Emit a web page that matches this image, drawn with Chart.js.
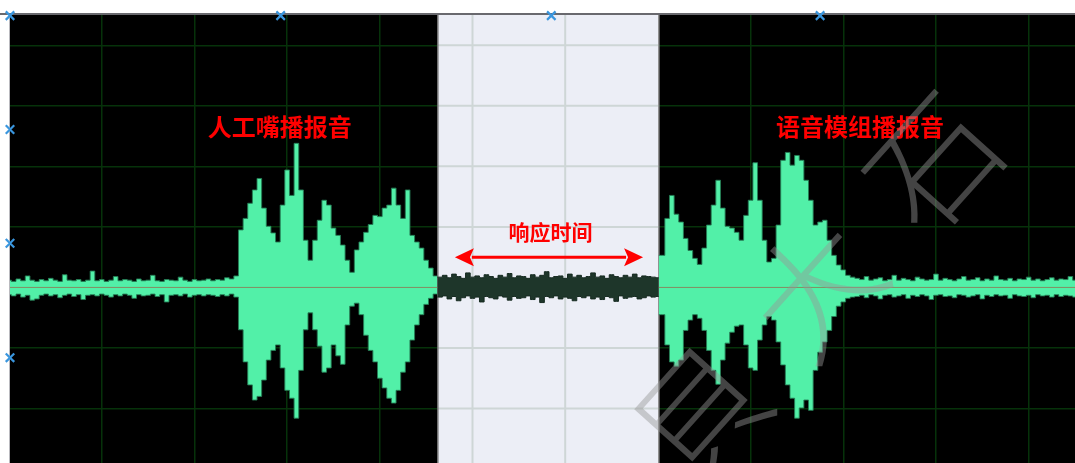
<!DOCTYPE html>
<html>
<head>
<meta charset="utf-8">
<script src="https://cdn.jsdelivr.net/npm/chart.js@4.4.1/dist/chart.umd.min.js"></script>
<style>
  html, body { margin: 0; padding: 0; background: #ffffff; overflow: hidden; }
  canvas { display: block; }
</style>
</head>
<body>
<canvas id="scope" width="1075" height="463" style="width:1075px;height:463px"></canvas>
<script>
// Waveform envelope, one sample every 5 ms, amplitude in mV (100 mV per division)
const sampleStepMs = 5;

const upperEnvelope = [
  // idle noise 0-235 ms
  12, 10, 14, 11, 19, 12, 10, 13, 11, 15, 12, 10,
  21, 12, 11, 13, 10, 12, 27, 11, 13, 10, 12, 18,
  11, 13, 12, 10, 14, 11, 12, 20, 11, 10, 13, 12,
  11, 17, 12, 10, 13, 11, 12, 14, 11, 13, 12, 16,
  // artificial mouth prompt 240-460 ms
  14, 19, 95, 114, 139, 161, 180, 131, 101, 90, 75, 136, 194, 152, 238,
  161, 78, 45, 78, 111, 144, 136, 98, 86, 70, 45, 25, 62, 75, 91,
  104, 119, 117, 131, 136, 164, 136, 114, 161, 86, 75, 65, 45, 32, 19,
  // response interval 465-700 ms
  17, 20, 16, 22, 18, 15, 24, 17, 19, 16, 21, 18,
  15, 20, 17, 23, 16, 19, 18, 15, 21, 17, 20, 26,
  16, 18, 19, 15, 22, 17, 20, 16, 18, 24, 17, 19,
  15, 21, 18, 16, 20, 17, 22, 16, 19, 18, 17, 16,
  // module playback 705-910 ms
  53, 114, 152, 121, 108, 81, 61, 48, 38, 65, 103, 136, 177, 131,
  101, 98, 91, 78, 119, 144, 206, 144, 78, 42, 48, 103, 210, 223,
  202, 218, 210, 177, 144, 103, 108, 111, 78, 53, 37, 29, 20, 17,
  // idle noise 915-1150 ms
  15, 13, 18, 12, 14, 16, 11, 13, 20, 12, 15, 13,
  11, 17, 14, 12, 13, 22, 12, 15, 13, 11, 14, 18,
  12, 13, 16, 11, 14, 12, 19, 13, 12, 15, 11, 14,
  13, 17, 12, 14, 11, 13, 16, 12, 14, 13, 18, 12
];

const lowerEnvelope = [
  -12, -14, -11, -16, -13, -21, -19, -13, -11, -14, -12, -17,
  -13, -11, -15, -12, -20, -13, -12, -14, -11, -13, -16, -12,
  -14, -11, -13, -18, -12, -14, -13, -11, -15, -12, -24, -13,
  -12, -14, -11, -16, -13, -12, -14, -12, -13, -15, -12, -14,
  -11, -16, -70, -123, -161, -186, -180, -153, -120, -104, -95, -133, -170, -183, -216,
  -137, -70, -42, -70, -97, -140, -133, -95, -113, -127, -62, -31, -26, -45, -79,
  -104, -123, -150, -166, -183, -191, -170, -140, -123, -87, -62, -45, -28, -18, -11,
  -16, -14, -19, -15, -22, -17, -14, -18, -16, -24, -15, -17,
  -19, -14, -16, -21, -15, -18, -17, -14, -20, -16, -25, -15,
  -17, -14, -19, -16, -18, -22, -15, -17, -14, -19, -16, -20,
  -15, -17, -23, -14, -18, -16, -15, -19, -17, -14, -16, -15,
  -45, -95, -123, -130, -120, -71, -54, -45, -51, -71, -104, -137, -160, -120,
  -92, -74, -64, -62, -95, -133, -137, -87, -62, -48, -54, -90, -128, -161,
  -183, -216, -199, -186, -203, -137, -107, -90, -71, -48, -31, -24, -18, -16,
  -15, -13, -17, -12, -14, -19, -13, -12, -16, -14, -12, -18,
  -13, -15, -12, -14, -20, -13, -12, -15, -14, -17, -12, -13,
  -16, -14, -12, -19, -13, -15, -12, -14, -13, -18, -12, -14,
  -15, -13, -17, -12, -14, -13, -16, -12, -15, -13, -14, -16
];

// Axis divisions
const gridTimes = [100, 200, 300, 400, 500, 600, 700, 800, 900, 1000, 1100];
const gridLevels = [-200, -100, 0, 100, 200, 300, 400];
const timeRange = [1, 1150];
const levelRange = [-290, 450];

// Highlighted response window (ms)
const responseWindow = [462, 701];

// Cursor markers along the top and left edges
const cursorTimes = [1, 293, 585, 875];
const cursorLevels = [449, 261, 73, -116];

// Annotation texts
const promptLabels = ['人工嘴播报音', '语音模组播报音'];
const responseLabel = '响应时间';
const watermarkChars = ['貝', '大', '石'];

// ---------------------------------------------------------------

const samples = upperEnvelope.map((u, i) => ({ t: i * sampleStepMs, u, l: lowerEnvelope[i] }));

function band(t0, t1) {
  const inside = samples.filter(s => s.t >= t0 && s.t <= t1);
  const first = samples.find(s => s.t >= t0);
  const last = samples.filter(s => s.t <= t1).pop();
  return [{ t: t0, u: first.u, l: first.l }, ...inside, { t: t1, u: last.u, l: last.l }];
}

function envelopePair(pts, fill, edge) {
  const common = { pointRadius: 0, borderWidth: 1, borderColor: edge, stepped: 'middle', tension: 0 };
  return [
    { ...common, data: pts.map(p => ({ x: p.t, y: p.u })), fill: false },
    { ...common, data: pts.map(p => ({ x: p.t, y: p.l })), fill: '-1', backgroundColor: fill }
  ];
}

const MINT = 'rgb(82,240,168)';
const MINT_EDGE = 'rgba(38,125,85,0.9)';
const DARK = 'rgb(30,54,42)';
const DARK_EDGE = 'rgb(22,42,32)';

const cursorPoints = [
  ...cursorTimes.map(t => ({ x: t, y: cursorLevels[0] })),
  ...cursorLevels.slice(1).map(v => ({ x: cursorTimes[0], y: v }))
];

const datasets = [
  {
    data: cursorPoints, showLine: false, pointStyle: 'crossRot', pointRadius: 6,
    pointBorderWidth: 2.2, pointBorderColor: 'rgb(58,150,222)', borderColor: 'rgb(58,150,222)', clip: false
  },
  {
    data: [
      { x: timeRange[0], y: 0 }, { x: responseWindow[0], y: 0 },
      { x: (responseWindow[0] + responseWindow[1]) / 2, y: null },
      { x: responseWindow[1], y: 0 }, { x: timeRange[1], y: 0 }
    ],
    borderColor: 'rgba(150,105,75,0.75)', borderWidth: 1, pointRadius: 0, fill: false, spanGaps: false
  },
  ...envelopePair(band(0, responseWindow[0]), MINT, MINT_EDGE),
  ...envelopePair(band(responseWindow[0], responseWindow[1]), DARK, DARK_EDGE),
  ...envelopePair(band(responseWindow[1], timeRange[1]), MINT, MINT_EDGE)
];

const scopeFrame = {
  id: 'scopeFrame',
  beforeDraw(chart) {
    const { ctx, chartArea: a } = chart;
    ctx.save();
    ctx.fillStyle = '#000000';
    ctx.fillRect(a.left, a.top, a.right - a.left, a.bottom - a.top);
    ctx.restore();
  },
  beforeDatasetsDraw(chart) {
    const { ctx, chartArea: a, scales: { x, y } } = chart;
    const x0 = x.getPixelForValue(responseWindow[0]);
    const x1 = x.getPixelForValue(responseWindow[1]);
    ctx.save();
    ctx.fillStyle = 'rgb(236,238,246)';
    ctx.fillRect(x0, a.top, x1 - x0, a.bottom - a.top);
    ctx.strokeStyle = 'rgb(206,214,214)';
    ctx.lineWidth = 2;
    gridTimes.forEach(t => {
      const px = x.getPixelForValue(t);
      if (px > x0 + 2 && px < x1 - 2) {
        ctx.beginPath(); ctx.moveTo(px, a.top); ctx.lineTo(px, a.bottom); ctx.stroke();
      }
    });
    gridLevels.forEach(v => {
      const py = y.getPixelForValue(v);
      ctx.beginPath(); ctx.moveTo(x0, py); ctx.lineTo(x1, py); ctx.stroke();
    });
    ctx.lineWidth = 1.5;
    ctx.strokeStyle = 'rgb(110,110,110)';
    ctx.beginPath(); ctx.moveTo(x0 + 0.5, a.top); ctx.lineTo(x0 + 0.5, a.bottom); ctx.stroke();
    ctx.strokeStyle = 'rgb(140,140,140)';
    ctx.beginPath(); ctx.moveTo(x1, a.top); ctx.lineTo(x1, a.bottom); ctx.stroke();
    // frame edges
    ctx.strokeStyle = 'rgb(105,105,110)';
    ctx.lineWidth = 2;
    ctx.beginPath(); ctx.moveTo(0, a.top - 1); ctx.lineTo(chart.width, a.top - 1); ctx.stroke();
    ctx.strokeStyle = 'rgb(185,185,190)';
    ctx.lineWidth = 1;
    ctx.beginPath(); ctx.moveTo(a.left - 0.5, a.top); ctx.lineTo(a.left - 0.5, a.bottom); ctx.stroke();
    ctx.restore();
  },
  afterDatasetsDraw(chart) {
    const { ctx, scales: { x, y } } = chart;
    ctx.save();
    ctx.fillStyle = '#ff0000';
    ctx.textAlign = 'center';
    ctx.textBaseline = 'middle';
    ctx.font = 'bold 24px "Noto Sans CJK SC", sans-serif';
    ctx.fillText(promptLabels[0], x.getPixelForValue(292), y.getPixelForValue(266));
    ctx.fillText(promptLabels[1], x.getPixelForValue(918), y.getPixelForValue(266));
    ctx.font = 'bold 21px "Noto Sans CJK SC", sans-serif';
    ctx.fillText(responseLabel, x.getPixelForValue(584), y.getPixelForValue(92));

    // double-headed arrow spanning the response time
    const ax0 = x.getPixelForValue(481), ax1 = x.getPixelForValue(684), ay = y.getPixelForValue(50);
    const head = 19, half = 9;
    ctx.strokeStyle = '#ff0000';
    ctx.lineWidth = 3;
    ctx.beginPath(); ctx.moveTo(ax0 + head - 2, ay); ctx.lineTo(ax1 - head + 2, ay); ctx.stroke();
    ctx.beginPath();
    ctx.moveTo(ax0, ay); ctx.lineTo(ax0 + head, ay - half); ctx.lineTo(ax0 + head - 4, ay); ctx.lineTo(ax0 + head, ay + half);
    ctx.closePath(); ctx.fill();
    ctx.beginPath();
    ctx.moveTo(ax1, ay); ctx.lineTo(ax1 - head, ay - half); ctx.lineTo(ax1 - head + 4, ay); ctx.lineTo(ax1 - head, ay + half);
    ctx.closePath(); ctx.fill();
    ctx.restore();
  },
  afterDraw(chart) {
    const { ctx } = chart;
    ctx.save();
    ctx.fillStyle = 'rgba(150,150,150,0.45)';
    ctx.font = '300 128px "Noto Sans CJK SC", sans-serif';
    ctx.textAlign = 'center';
    ctx.textBaseline = 'middle';
    const centres = [[700, 414], [815, 288], [933, 162]];
    watermarkChars.forEach((ch, i) => {
      ctx.save();
      ctx.translate(centres[i][0], centres[i][1]);
      ctx.rotate(-48 * Math.PI / 180);
      ctx.fillText(ch, 0, 0);
      ctx.restore();
    });
    ctx.restore();
  }
};

new Chart(document.getElementById('scope'), {
  type: 'line',
  data: { datasets },
  options: {
    responsive: false,
    animation: false,
    devicePixelRatio: 1,
    layout: { padding: { left: 10, top: 15, right: 0, bottom: 0 }, autoPadding: false },
    plugins: { legend: { display: false }, tooltip: { enabled: false } },
    scales: {
      x: {
        type: 'linear', min: timeRange[0], max: timeRange[1],
        ticks: { display: false }, border: { display: false },
        grid: { color: 'rgb(6,50,10)', lineWidth: 1.5, drawTicks: false },
        afterBuildTicks: axis => { axis.ticks = gridTimes.map(v => ({ value: v })); }
      },
      y: {
        type: 'linear', min: levelRange[0], max: levelRange[1],
        ticks: { display: false }, border: { display: false },
        grid: { color: 'rgb(6,50,10)', lineWidth: 1.5, drawTicks: false },
        afterBuildTicks: axis => { axis.ticks = gridLevels.map(v => ({ value: v })); }
      }
    }
  },
  plugins: [scopeFrame]
});
</script>
</body>
</html>
